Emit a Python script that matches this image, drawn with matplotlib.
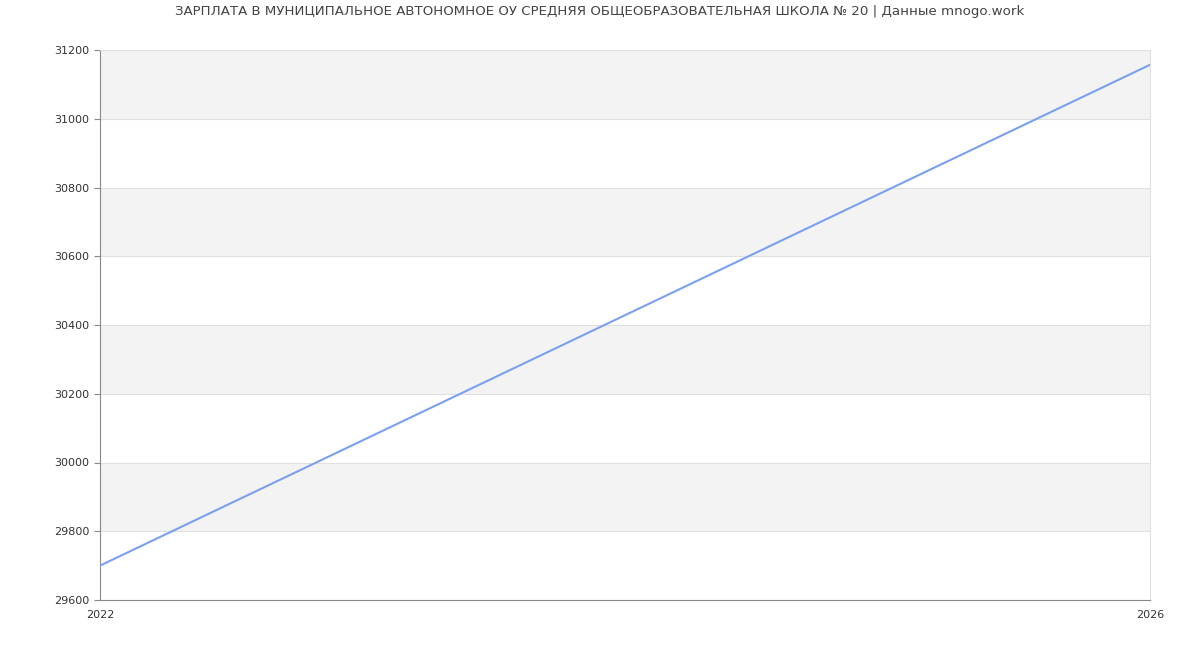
import matplotlib
matplotlib.use('Agg')
import matplotlib.pyplot as plt

years = [2022, 2026]
salary = [29700, 31157]
y_ticks = [29600, 29800, 30000, 30200, 30400, 30600, 30800, 31000, 31200]
title = 'ЗАРПЛАТА В МУНИЦИПАЛЬНОЕ АВТОНОМНОЕ ОУ СРЕДНЯЯ ОБЩЕОБРАЗОВАТЕЛЬНАЯ ШКОЛА № 20 | Данные mnogo.work'

plt.rcParams['font.family'] = ['DejaVu Sans']

fig = plt.figure(figsize=(12, 6.5), dpi=100)
ax = fig.add_axes([100 / 1200, 50 / 650, 1050 / 1200, 550 / 650])

# alternating bands
for i in range(len(y_ticks) - 1):
    if i % 2 == 1:
        ax.axhspan(y_ticks[i], y_ticks[i + 1], color='#f3f3f3', zorder=0, lw=0)
for t in y_ticks[1:-1]:
    ax.axhline(t, color='#e0e0e0', lw=0.8, zorder=1)

ax.plot(years, salary, color='#7aa0f0', lw=1.5, zorder=3)

ax.set_xlim(years[0], years[-1])
ax.set_ylim(y_ticks[0], y_ticks[-1])
ax.set_yticks(y_ticks)
ax.set_xticks(years)
ax.set_xticklabels([str(y) for y in years])
ax.tick_params(axis='both', labelsize=8, colors='#333333', length=4, color='#888888')
ax.tick_params(axis='x', length=0, pad=7)

ax.spines['left'].set_color('#888888')
ax.spines['bottom'].set_color('#888888')
ax.spines['top'].set_color('#e0e0e0')
ax.spines['right'].set_color('#e0e0e0')

fig.text(0.5, 1 - 12 / 650, title, ha='center', va='center', fontsize=9.65, color='#444444')

fig.savefig('out.png', dpi=100)
